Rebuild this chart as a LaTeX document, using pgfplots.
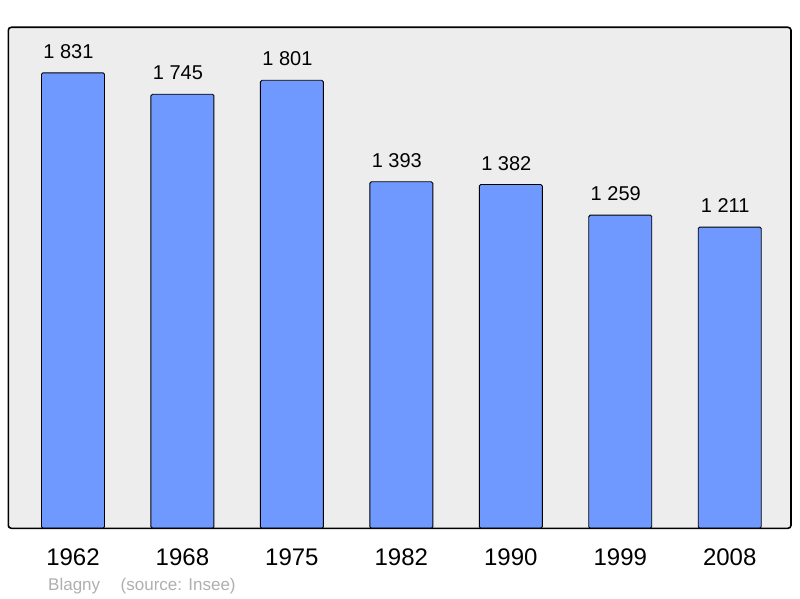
\documentclass[border=0pt]{standalone}
\usepackage{pgfplots}
\pgfplotsset{compat=1.18}
\usepackage{fontspec}
\setmainfont{Liberation Sans}
\definecolor{barblue}{RGB}{112,153,255}
\definecolor{panel}{RGB}{237,237,237}
\definecolor{footgray}{RGB}{175,175,175}
\begin{document}
\begin{tikzpicture}
\useasboundingbox (0,0) rectangle (800pt,598pt);
\begin{axis}[
  at={(8.3pt,69.7pt)}, anchor=south west,
  scale only axis, width=782.7pt, height=501pt,
  xmin=-0.591, xmax=6.56, ymin=0, ymax=2014,
  ybar, bar width=63pt,
  axis background/.style={fill=panel},
  axis line style={line width=1.6pt, rounded corners=3pt},
  axis on top,
  xtick=data, xticklabels={1962,1968,1975,1982,1990,1999,2008},
  ytick=\empty, major tick length=0pt,
  xticklabel style={anchor=base, yshift=-37pt, font=\fontsize{24}{26}\selectfont},
  nodes near coords, point meta=explicit symbolic,
  every node near coord/.append style={anchor=base, yshift=14.5pt, xshift=-4.5pt,
    font=\fontsize{20}{22}\selectfont, text=black},
]
\addplot[fill=barblue, draw=black, line width=0.9pt, rounded corners=1.5pt]
  coordinates {(0,1831)[1 831] (1,1745)[1 745] (2,1801)[1 801] (3,1393)[1 393]
               (4,1382)[1 382] (5,1259)[1 259] (6,1211)[1 211]};
\end{axis}
\node[anchor=base west, text=footgray, font=\fontsize{17}{19}\selectfont, inner sep=0pt] at (48pt,8pt) {Blagny};
\node[anchor=base west, text=footgray, font=\fontsize{17}{19}\selectfont, inner sep=0pt] at (120.5pt,8pt) {(source: Insee)};
\end{tikzpicture}
\end{document}
